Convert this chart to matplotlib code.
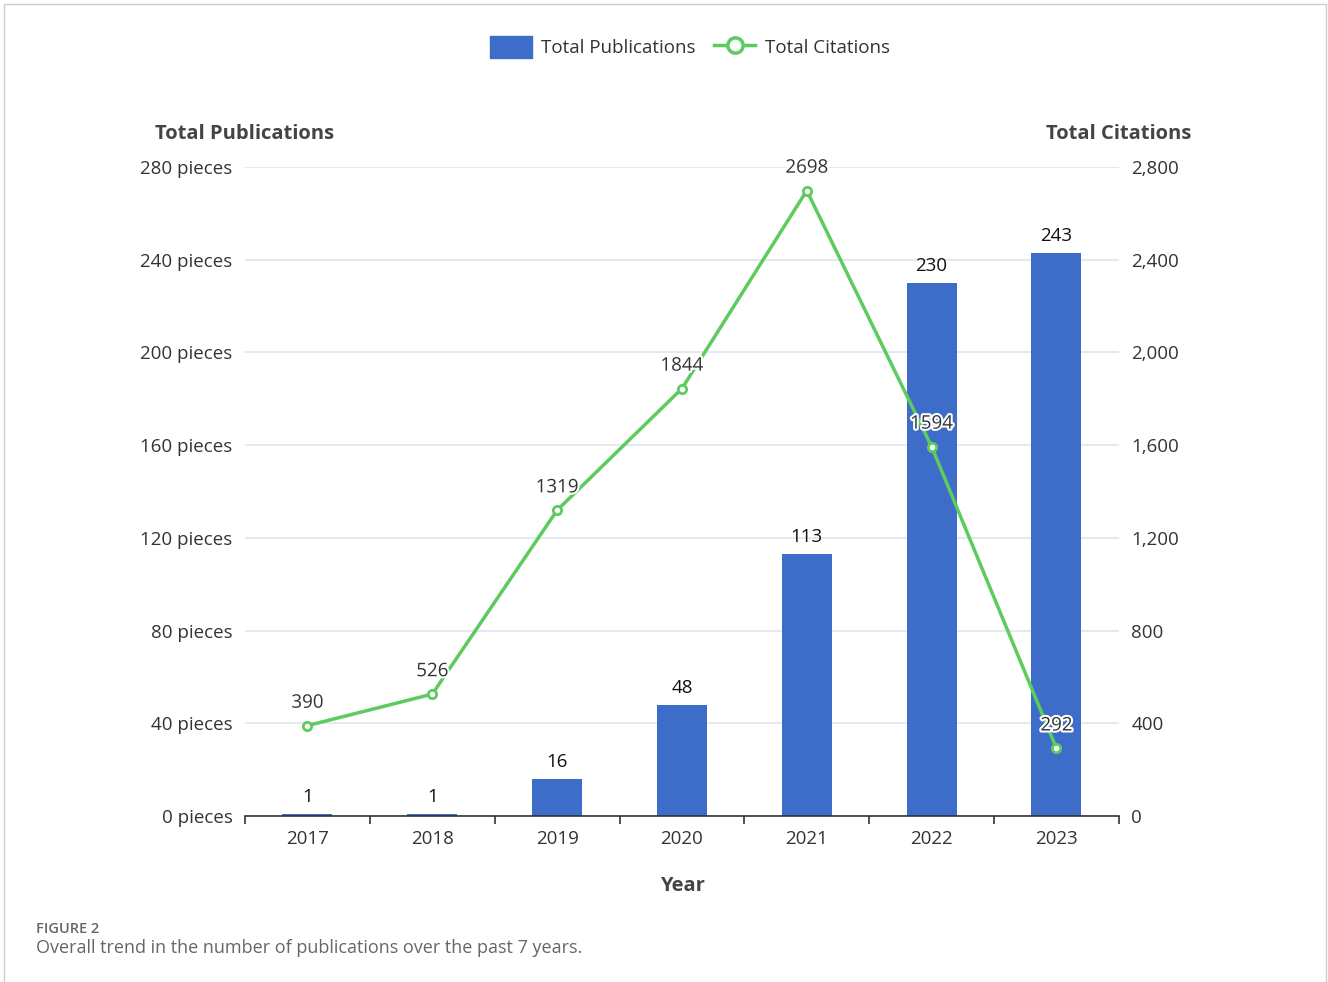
import numpy as np
import matplotlib.pyplot as plt
import matplotlib.patheffects as pe
from matplotlib.patches import Patch, Rectangle
from matplotlib.lines import Line2D

plt.rcParams['font.family'] = ['Open Sans', 'DejaVu Sans']

years = ['2017', '2018', '2019', '2020', '2021', '2022', '2023']
publications = [1, 1, 16, 48, 113, 230, 243]
citations = [390, 526, 1319, 1844, 2698, 1594, 292]

bar_col = '#3D6CC9'
line_col = '#5DCB5E'
text_col = '#333333'
grid_col = '#E0E6F1'

fig = plt.figure(figsize=(13.28, 9.82), dpi=100)
ax = fig.add_axes([0.1845, 0.169, 0.658, 0.661])
ax2 = ax.twinx()

x = np.arange(len(years))
ax.bar(x, publications, width=0.4, color=bar_col, zorder=2)
for xi, v in zip(x, publications):
    ax.text(xi, v + 3.5, str(v), ha='center', va='bottom', fontsize=13.5, color='#111111')

ax.set_ylim(0, 280)
ax.set_xlim(-0.5, len(years) - 0.5)
ax.set_yticks(range(0, 281, 40))
ax.set_yticklabels([f'{v} pieces' for v in range(0, 281, 40)])
ax.set_xticks(x)
ax.set_xticklabels(years)
ax.set_xticks(np.arange(-0.5, len(years)), minor=True)
ax.tick_params(axis='x', which='major', length=0, pad=10, labelsize=13.5, labelcolor=text_col)
ax.tick_params(axis='x', which='minor', length=6, color='#333333', width=1.2)
ax.tick_params(axis='y', length=0, pad=9, labelsize=13.5, labelcolor=text_col)
ax.yaxis.grid(True, color=grid_col, linewidth=1.3, zorder=0)
ax.set_axisbelow(True)
for s in ['top', 'left', 'right']:
    ax.spines[s].set_visible(False)
ax.spines['bottom'].set_color('#333333')
ax.spines['bottom'].set_linewidth(1.2)

ax2.plot(x, citations, color=line_col, linewidth=2.5, marker='o', markersize=6,
         markerfacecolor='white', markeredgecolor=line_col, markeredgewidth=2, zorder=3)
for xi, v in zip(x, citations):
    ax2.annotate(str(v), (xi, v), xytext=(0, 10), textcoords='offset points',
                 ha='center', va='bottom', fontsize=13.5, color='#333333',
                 path_effects=[pe.withStroke(linewidth=3, foreground='white')])
ax2.set_ylim(0, 2800)
ax2.set_yticks(range(0, 2801, 400))
ax2.set_yticklabels([f'{v:,}' for v in range(0, 2801, 400)])
ax2.tick_params(axis='y', length=0, pad=9, labelsize=13.5, labelcolor=text_col)
for s in ['top', 'left', 'right', 'bottom']:
    ax2.spines[s].set_visible(False)

fig.text(245 / 1328, 1 - 134 / 982, 'Total Publications', ha='center', va='center',
         fontsize=14.5, fontweight='bold', color='#444444')
fig.text(1119 / 1328, 1 - 134 / 982, 'Total Citations', ha='center', va='center',
         fontsize=14.5, fontweight='bold', color='#444444')
fig.text(682 / 1328, 1 - 886 / 982, 'Year', ha='center', va='center',
         fontsize=14.5, fontweight='bold', color='#444444')

handles = [Patch(facecolor=bar_col, edgecolor=bar_col, label='Total Publications'),
           Line2D([], [], color=line_col, linewidth=2.5, marker='o', markersize=11,
                  markerfacecolor='white', markeredgewidth=2.5, label='Total Citations')]
fig.legend(handles=handles, loc='center', bbox_to_anchor=(690 / 1328, 1 - 47 / 982),
           ncol=2, frameon=False, fontsize=13.5, handlelength=2.2, handleheight=1.4,
           columnspacing=1.0, handletextpad=0.5, labelcolor='#333333')

fig.text(36 / 1328, 1 - 929 / 982, 'FIGURE 2', ha='left', va='center',
         fontsize=10.5, fontweight='semibold', color='#666666')
fig.text(36 / 1328, 1 - 948 / 982, 'Overall trend in the number of publications over the past 7 years.',
         ha='left', va='center', fontsize=13, color='#666666')

fig.patches.append(Rectangle((4 / 1328, -0.01), 1322 / 1328, 1 - 4 / 982 + 0.01,
                             transform=fig.transFigure, fill=False,
                             edgecolor='#CCCCCC', linewidth=1))

fig.savefig('out.png', dpi=100)
